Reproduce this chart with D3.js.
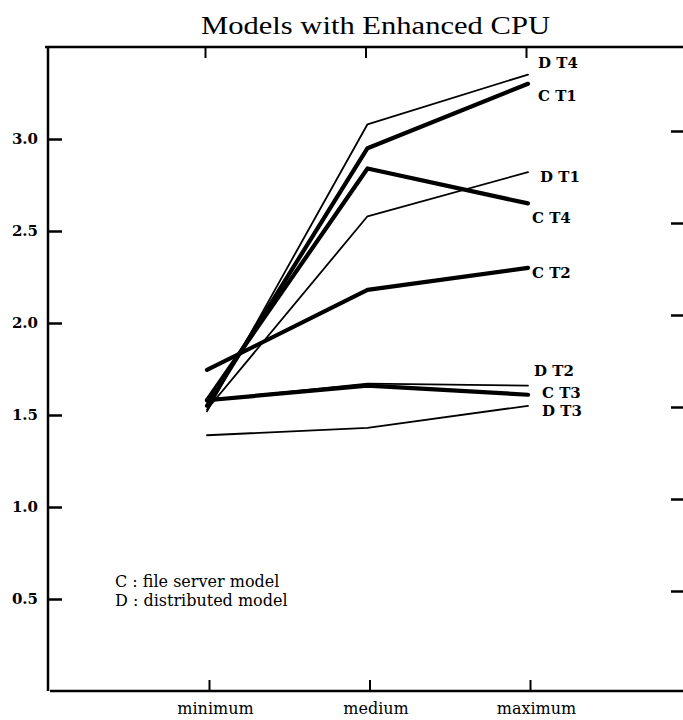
<!DOCTYPE html>
<html>
<head>
<meta charset="utf-8">
<script src="https://cdn.jsdelivr.net/npm/d3@7"></script>
<style>
  body { margin: 0; background: #fff; }
  svg { display: block; }
  text { font-family: "DejaVu Serif", "Liberation Serif", serif; fill: #000; }
</style>
</head>
<body>
<svg id="chart" width="683" height="720"></svg>
<script>
// load levels on the x axis
var categories = ["minimum", "medium", "maximum"];
var yTicks = [0.5, 1.0, 1.5, 2.0, 2.5, 3.0];

// one array per curve, values at minimum / medium / maximum
var seriesNames = ["D T4", "C T1", "D T1", "C T4", "C T2", "D T2", "C T3", "D T3"];
var dT4 = [1.52, 3.08, 3.35];
var cT1 = [1.55, 2.95, 3.30];
var dT1 = [1.53, 2.58, 2.82];
var cT4 = [1.58, 2.84, 2.65];
var cT2 = [1.745, 2.18, 2.30];
var dT2 = [1.58, 1.67, 1.66];
var cT3 = [1.58, 1.66, 1.61];
var dT3 = [1.39, 1.43, 1.55];
var seriesValues = [dT4, cT1, dT1, cT4, cT2, dT2, cT3, dT3];

var legendLines = ["C : file server model", "D : distributed model"];

// label nudges so the end labels don't collide
var labelDy = { "D T4": -12, "C T1": 12, "D T1": 5, "C T4": 14, "C T2": 5, "D T2": -15, "C T3": -2, "D T3": 5 };
var labelDx = { "D T4": 10, "C T1": 10, "D T1": 12, "C T4": 4, "C T2": 4, "D T2": 6, "C T3": 14, "D T3": 14 };

var svg = d3.select("#chart");

var x = d3.scalePoint().domain(categories).range([207, 528]);
var y = d3.scaleLinear().domain([0, 3.5]).range([691, 47]);

// title
svg.append("text")
  .attr("x", 201)
  .attr("y", 34)
  .attr("textLength", 349)
  .attr("lengthAdjust", "spacingAndGlyphs")
  .style("font-family", "'Liberation Serif', serif")
  .style("font-size", "26px")
  .text("Models with Enhanced CPU");

// frame: top border and left axis
svg.append("line")
  .attr("x1", 45).attr("x2", 683)
  .attr("y1", y(3.5)).attr("y2", y(3.5))
  .attr("stroke", "#000").attr("stroke-width", 2.5);

var leftAxis = svg.append("g").attr("transform", "translate(48,0)");
leftAxis.call(d3.axisRight(y).tickValues(yTicks).tickSize(14).tickFormat(""));
leftAxis.select(".domain").remove();
leftAxis.selectAll(".tick line").attr("stroke-width", 2.5);
leftAxis.append("line")
  .attr("x1", 0).attr("x2", 0)
  .attr("y1", y(3.5)).attr("y2", y(0))
  .attr("stroke", "#000").attr("stroke-width", 2.5);

leftAxis.selectAll(".tick").append("text")
  .attr("x", -10)
  .attr("dy", "0.32em")
  .attr("text-anchor", "end")
  .style("font-size", "15px")
  .style("font-weight", "bold")
  .text(function(d) { return d3.format(".1f")(d); });

// right-side ticks (no axis line in the scan)
var rightAxis = svg.append("g").attr("transform", "translate(683,-8)");
rightAxis.call(d3.axisLeft(y).tickValues(yTicks).tickSize(12).tickFormat(""));
rightAxis.select(".domain").remove();
rightAxis.selectAll(".tick line").attr("stroke-width", 2.5);

// top ticks
var topAxis = svg.append("g").attr("transform", "translate(-2," + y(3.5) + ")");
topAxis.call(d3.axisBottom(x).tickSize(11).tickFormat(""));
topAxis.select(".domain").remove();
topAxis.selectAll(".tick line").attr("stroke-width", 2);

// bottom axis
svg.append("line")
  .attr("x1", 50).attr("x2", 683)
  .attr("y1", y(0)).attr("y2", y(0))
  .attr("stroke", "#000").attr("stroke-width", 2.5);

var bottomAxis = svg.append("g").attr("transform", "translate(2," + y(0) + ")");
bottomAxis.call(d3.axisTop(x).tickSize(11).tickFormat(""));
bottomAxis.select(".domain").remove();
bottomAxis.selectAll(".tick line").attr("stroke-width", 2);
bottomAxis.selectAll(".tick").append("text")
  .attr("x", 6)
  .attr("y", 23)
  .attr("text-anchor", "middle")
  .style("font-size", "16px")
  .text(function(d) { return d; });

// curves
var line = d3.line()
  .x(function(d, i) { return x(categories[i]); })
  .y(function(d) { return y(d); });

var series = seriesNames.map(function(name, i) {
  return { name: name, values: seriesValues[i], thick: name.charAt(0) === "C" };
});

svg.append("g").selectAll("path")
  .data(series)
  .enter()
  .append("path")
  .attr("d", function(d) { return line(d.values); })
  .attr("fill", "none")
  .attr("stroke", "#000")
  .attr("stroke-width", function(d) { return d.thick ? 4.2 : 1.8; })
  .attr("stroke-linejoin", "round")
  .attr("stroke-linecap", "round");

svg.append("g").selectAll("text")
  .data(series)
  .enter()
  .append("text")
  .attr("x", function(d) { return x(categories[2]) + labelDx[d.name]; })
  .attr("y", function(d) { return y(d.values[2]) + labelDy[d.name]; })
  .attr("dy", "0.35em")
  .style("font-size", "15px")
  .style("font-weight", "bold")
  .text(function(d) { return d.name; });

// legend
svg.append("g").selectAll("text")
  .data(legendLines)
  .enter()
  .append("text")
  .attr("x", 115)
  .attr("y", function(d, i) { return 587 + i * 19; })
  .style("font-size", "16px")
  .text(function(d) { return d; });
</script>
</body>
</html>
